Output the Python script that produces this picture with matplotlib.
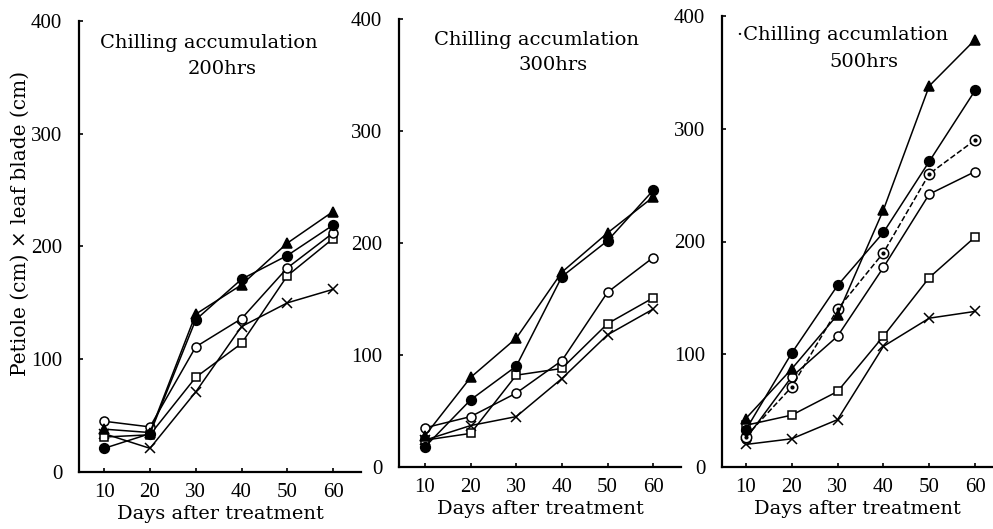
import matplotlib.pyplot as plt

days = [10, 20, 30, 40, 50, 60]

# Petiole x leaf blade (cm^2), read per chilling treatment
tri_200 = [38, 35, 140, 166, 203, 231]
dot_200 = [21, 34, 135, 171, 192, 219]
ring_200 = [45, 40, 111, 136, 181, 212]
sq_200 = [31, 33, 84, 114, 174, 207]
x_200 = [34, 21, 71, 129, 150, 162]

tri_300 = [28, 80, 115, 174, 209, 241]
dot_300 = [18, 60, 90, 170, 202, 247]
ring_300 = [35, 45, 66, 95, 156, 187]
sq_300 = [24, 30, 82, 88, 128, 151]
x_300 = [24, 37, 45, 79, 118, 141]

tri_500 = [43, 87, 135, 228, 338, 379]
dot_500 = [33, 101, 161, 208, 271, 334]
dring_500 = [27, 71, 140, 190, 260, 290]
ring_500 = [25, 80, 116, 177, 242, 262]
sq_500 = [37, 46, 67, 116, 168, 204]
x_500 = [20, 25, 42, 107, 132, 138]

yticks = [0, 100, 200, 300, 400]

W, H = 993., 529.
plt.rcParams['font.family'] = ['Liberation Serif', 'DejaVu Serif']
plt.rcParams['font.size'] = 15
wide = ['DejaVu Serif']

fig = plt.figure(figsize=(9.93, 5.29), dpi=100)

def make_axes(left, right, bottom, top, xlim):
    ax = fig.add_axes([left / W, 1 - bottom / H, (right - left) / W, (bottom - top) / H])
    ax.set_xlim(xlim)
    ax.set_ylim(0, 400)
    ax.set_xticks(days)
    ax.set_yticks(yticks)
    for s in ['top', 'right']:
        ax.spines[s].set_visible(False)
    for s in ['left', 'bottom']:
        ax.spines[s].set_linewidth(1.6)
    ax.tick_params(direction='in', length=3, width=1.2, labelsize=15)
    ax.tick_params(axis='y', pad=12)
    ax.tick_params(axis='x', pad=8)
    ax.set_xlabel('Days after treatment', family=wide, fontsize=14, labelpad=2)
    ax.patch.set_alpha(0)
    return ax

def series(ax, y, marker, filled=True, ms=6.5, ls='-'):
    ax.plot(days, y, color='black', lw=1.1, ls=ls, marker=marker, ms=ms,
            mfc='black' if filled else 'white', mec='black', mew=1.1, clip_on=False)

ax1 = make_axes(79, 361, 472, 21, (4.5, 66.1))
series(ax1, x_200, 'x', ms=6.5)
series(ax1, sq_200, 's', filled=False, ms=5.5)
series(ax1, ring_200, 'o', filled=False, ms=6.5)
series(ax1, dot_200, 'o', ms=7)
series(ax1, tri_200, '^', ms=7)

ax2 = make_axes(399, 681, 467, 19, (4.3, 66.1))
series(ax2, x_300, 'x', ms=6.5)
series(ax2, sq_300, 's', filled=False, ms=5.5)
series(ax2, ring_300, 'o', filled=False, ms=6.5)
series(ax2, dot_300, 'o', ms=7)
series(ax2, tri_300, '^', ms=7)

ax3 = make_axes(722, 993, 467, 16, (4.8, 63.9))
series(ax3, x_500, 'x', ms=6.5)
series(ax3, sq_500, 's', filled=False, ms=5.5)
series(ax3, ring_500, 'o', filled=False, ms=6.5)
series(ax3, dring_500, 'o', filled=False, ms=7.5, ls='--')
ax3.plot(days, dring_500, ls='none', marker='o', ms=2, color='black')
series(ax3, dot_500, 'o', ms=7)
series(ax3, tri_500, '^', ms=7)

fig.text(20 / W, 1 - 223 / H, 'Petiole (cm) \u00d7 leaf blade (cm)',
         rotation=90, ha='center', va='center', family=wide, fontsize=14.5)

titles = [
    (209, 43, 'Chilling accumulation'), (222, 69, '200hrs'),
    (536, 40, 'Chilling accumlation'), (553, 65, '300hrs'),
    (843, 35, '\u00b7Chilling accumlation'), (864, 62, '500hrs'),
]
for px, py, s in titles:
    fig.text(px / W, 1 - py / H, s, ha='center', va='center', family=wide, fontsize=14)

fig.savefig('out.png', dpi=100)
